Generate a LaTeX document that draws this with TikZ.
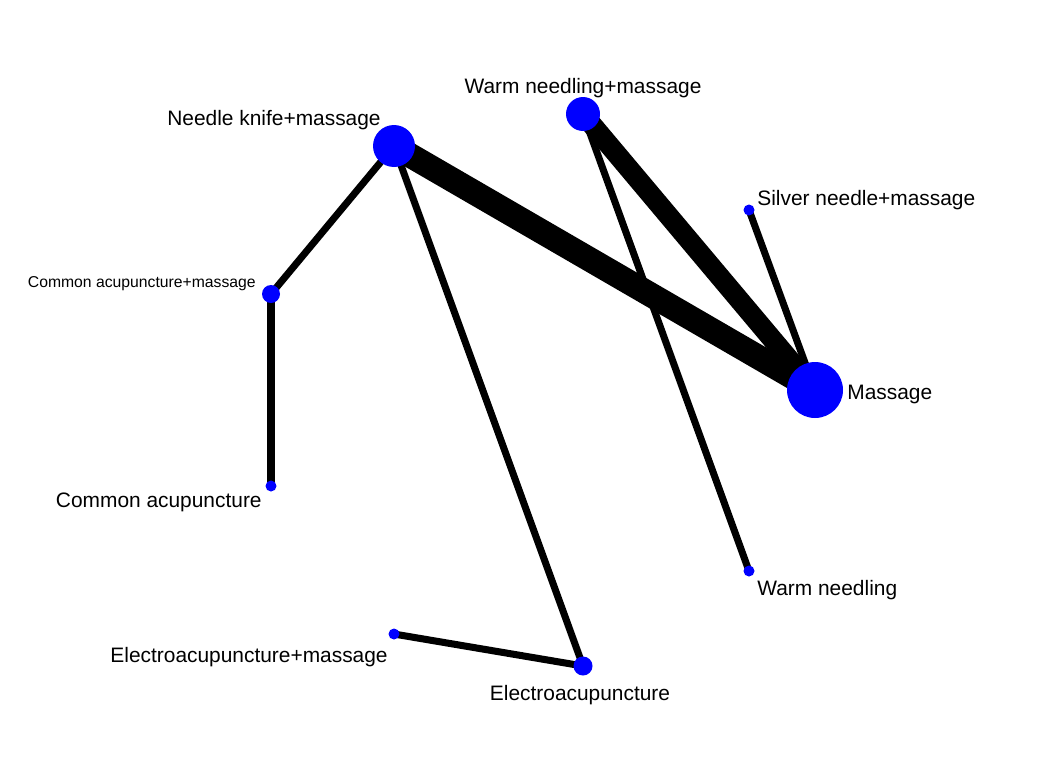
\documentclass[tikz,border=0pt]{standalone}
\usepackage{fontspec}
\setmainfont{Liberation Sans}
\usepackage{tikz}

\tikzset{
  trt/.style={circle, fill=blue, inner sep=0pt},
  lbl/.style={inner sep=0pt, font=\fontsize{11.9}{14}\selectfont},
  smalllbl/.style={inner sep=0pt, font=\fontsize{8.95}{11}\selectfont},
  thin link/.style={line width=4pt},
}

\begin{document}
\begin{tikzpicture}[x=0.02cm, y=-0.02cm]
\useasboundingbox (0,0) rectangle (1054,778);

% treatments
\coordinate (nk) at (394,146);
\coordinate (wm) at (583,114);
\coordinate (sn) at (749,210);
\coordinate (cam) at (271,294);
\coordinate (ms) at (815,390);
\coordinate (ca) at (271,486);
\coordinate (wn) at (749,571);
\coordinate (eam) at (394,634);
\coordinate (ea) at (583,666);

% comparisons
\draw[line width=14pt] (nk) -- (ms);
\draw[line width=11.5pt] (wm) -- (ms);
\draw[thin link] (sn) -- (ms);
\draw[thin link] (nk) -- (cam);
\draw[thin link] (cam) -- (ca);
\draw[thin link] (nk) -- (ea);
\draw[thin link] (wm) -- (wn);
\draw[thin link] (eam) -- (ea);

\node[trt, minimum size=0.84cm] (nkdot) at (nk) {};
\node[trt, minimum size=0.68cm] (wmdot) at (wm) {};
\node[trt, minimum size=1.12cm] (msdot) at (ms) {};
\node[trt, minimum size=0.36cm] (camdot) at (cam) {};
\node[trt, minimum size=0.38cm] (eadot) at (ea) {};
\foreach \p in {sn,ca,wn,eam}
  \node[trt, minimum size=0.22cm] (\p dot) at (\p) {};

\node[lbl, anchor=base east] (nklbl) at (381,125) {Needle knife+massage};
\node[lbl, anchor=base] (wmlbl) at (583,93) {Warm needling+massage};
\node[lbl, anchor=base west] (snlbl) at (757,205) {Silver needle+massage};
\node[smalllbl, anchor=base east] (camlbl) at (256,287) {Common acupuncture+massage};
\node[lbl, anchor=base west] (mslbl) at (847,399) {Massage};
\node[lbl, anchor=base east] (calbl) at (262,507) {Common acupuncture};
\node[lbl, anchor=base west] (wnlbl) at (757,595) {Warm needling};
\node[lbl, anchor=base east] (eamlbl) at (388,662) {Electroacupuncture+massage};
\node[lbl, anchor=base] (ealbl) at (580,700) {Electroacupuncture};

\end{tikzpicture}
\end{document}
